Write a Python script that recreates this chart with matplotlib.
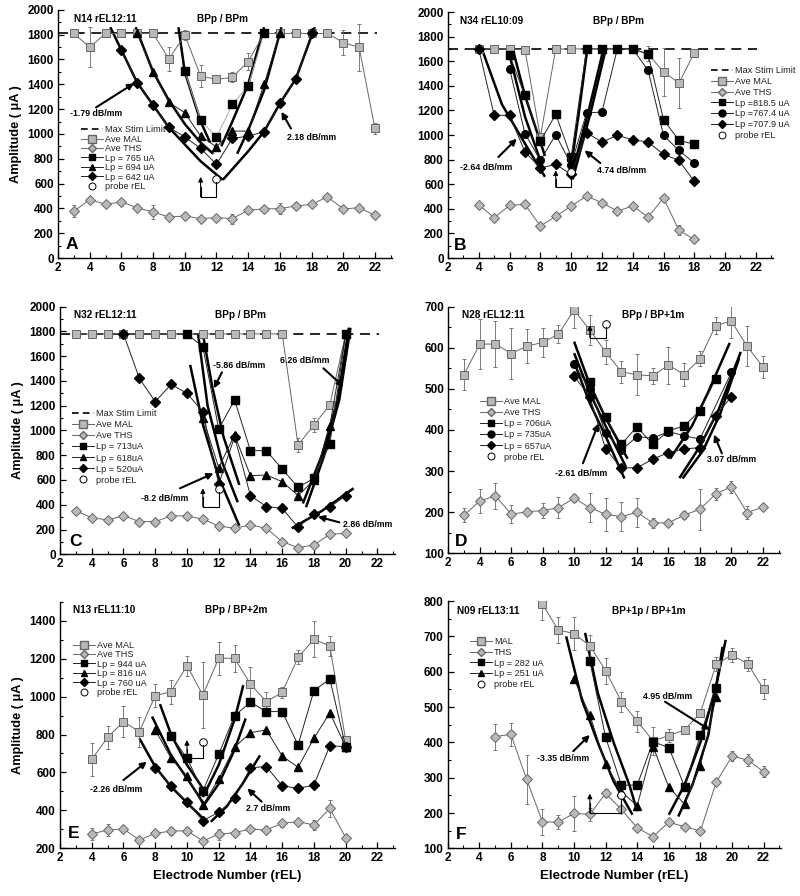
import matplotlib.pyplot as plt
from matplotlib.lines import Line2D
from matplotlib.ticker import MultipleLocator

plt.rcParams['font.family'] = ['Liberation Sans', 'DejaVu Sans']

# ---------------- panel A : N14 rEL12:11 ----------------
a_max = 1815
a_mal_x = list(range(3, 23))
a_mal = [1810, 1698, 1810, 1810, 1810, 1810, 1604, 1798, 1467, 1440,
         1456, 1583, 1810, 1810, 1810, 1810, 1810, 1736, 1698, 1044]
a_mal_err = [0, 160, 0, 0, 0, 0, 100, 40, 90, 20, 40, 70, 0, 0, 0, 0, 0, 100, 190, 45]
a_ths_x = list(range(3, 23))
a_ths = [377, 471, 433, 452, 406, 371, 331, 339, 318, 326,
         318, 385, 396, 398, 420, 433, 493, 396, 406, 345]
a_ths_err = [50, 0, 20, 0, 20, 55, 20, 0, 0, 0, 40, 0, 0, 45, 0, 0, 0, 0, 0, 0]
a_lp_x = [[10, 11, 12, 13, 14, 15],
          [7, 8, 9, 10, 11, 12, 13, 14, 15, 16],
          list(range(6, 19))]
a_lp_y = [[1507, 1112, 972, 1238, 1386, 1810],
          [1810, 1502, 1254, 1171, 982, 896, 1023, 1023, 1400, 1810],
          [1677, 1413, 1233, 1052, 977, 883, 756, 964, 982, 1018, 1246, 1443, 1810]]
a_labels = ['Lp = 765 uA', 'Lp = 694 uA', 'Lp = 642 uA']
a_probe = (12, 641)
a_fit_x = [[5.3, 7, 9, 11, 12.4], [12.4, 14, 15, 16, 17, 18.2],
           [6.9, 8, 9, 10, 11, 11.8], [13.3, 14, 15, 16.1],
           [9.6, 10, 11, 11.6], [12.3, 13, 14, 15]]
a_fit_y = [[1860, 1413, 1052, 780, 630], [630, 860, 1018, 1246, 1443, 1860],
           [1860, 1500, 1270, 1080, 930, 840], [840, 1030, 1350, 1860],
           [1860, 1500, 1100, 930], [900, 1100, 1400, 1860]]

# ---------------- panel B : N34 rEL10:09 ----------------
b_max = 1700
b_mal_x = list(range(4, 19))
b_mal = [1700, 1700, 1700, 1694, 984, 1700, 1700, 1700, 1700, 1700, 1700, 1660, 1512, 1423, 1667]
b_mal_err = [0, 0, 0, 0, 0, 0, 0, 0, 0, 0, 0, 60, 195, 205, 35]
b_ths_x = list(range(4, 19))
b_ths = [434, 328, 428, 436, 260, 339, 423, 504, 450, 382, 423, 333, 488, 225, 152]
b_ths_err = [0, 0, 0, 0, 0, 0, 0, 0, 0, 0, 0, 0, 0, 40, 0]
b_lp_x = [list(range(6, 19)), list(range(6, 19)), list(range(4, 19))]
b_lp_y = [[1648, 1322, 951, 1168, 820, 1700, 1700, 1700, 1700, 1656, 1125, 957, 924],
          [1539, 1011, 794, 1003, 760, 1179, 1187, 1700, 1700, 1526, 997, 875, 772],
          [1700, 1160, 1160, 862, 732, 762, 680, 1019, 943, 997, 962, 943, 843, 794, 623]]
b_labels = ['Lp =818.5 uA', 'Lp =767.4 uA', 'Lp =707.9 uA']
b_probe = (10, 700)
b_fit_x = [[4.2, 5.5, 7, 8.3], [6.0, 7, 8.2], [6.2, 7, 8.3],
           [9.95, 10.5, 11.05], [10.0, 11.2, 12.1], [10.1, 11.3, 12.25]]
b_fit_y = [[1700, 1250, 930, 660], [1650, 1150, 720], [1700, 1320, 830],
           [700, 1180, 1700], [660, 1230, 1700], [640, 1200, 1700]]

# ---------------- panel C : N32 rEL12:11 ----------------
c_max = 1780
c_mal_x = list(range(3, 21))
c_mal = [1780] * 14 + [883, 1044, 1206, 1780]
c_mal_err = [0] * 14 + [60, 60, 0, 0]
c_ths_x = list(range(3, 21))
c_ths = [350, 296, 277, 312, 264, 264, 310, 310, 283, 229, 210, 237, 210, 102, 54, 75, 161, 170]
c_ths_err = [0] * 18
c_lp_x = [list(range(10, 21)), list(range(11, 21)), list(range(6, 21))]
c_lp_y = [[1780, 1677, 1012, 1246, 837, 837, 689, 541, 614, 888, 1780],
          [1104, 700, 964, 635, 640, 587, 474, 600, 1039, 1780],
          [1780, 1421, 1233, 1373, 1300, 1152, 565, 950, 474, 385, 371, 218, 326, 380, 474]]
c_labels = ['Lp = 713uA', 'Lp = 618uA', 'Lp = 520uA']
c_probe = (12, 528)
c_fit_x = [[11.0, 11.6, 12.3, 13.3], [10.7, 11.3, 12.2, 13.2], [10.2, 11.0, 12.0, 13.3],
           [17.3, 18.5, 19.5, 20.2], [17.5, 18.6, 19.6, 20.3], [16.6, 18.5, 20.5]]
c_fit_y = [[1780, 1350, 950, 560], [1780, 1200, 750, 420], [1530, 1050, 620, 230],
           [410, 800, 1250, 1830], [380, 780, 1250, 1830], [210, 350, 533]]

# ---------------- panel D : N28 rEL12:11 ----------------
d_mal_x = list(range(3, 23))
d_mal = [535, 609, 609, 586, 604, 613, 633, 692, 643, 590,
         542, 534, 532, 558, 535, 573, 654, 665, 604, 554]
d_mal_err = [37, 60, 55, 63, 42, 35, 22, 45, 37, 30, 27, 50, 20, 45, 27, 18, 20, 42, 48, 27]
d_ths_x = list(range(3, 23))
d_ths = [193, 227, 240, 195, 201, 204, 211, 234, 211, 195,
         189, 200, 174, 174, 193, 207, 244, 262, 199, 212]
d_ths_err = [18, 30, 32, 22, 8, 18, 25, 10, 35, 40, 35, 35, 12, 0, 10, 50, 15, 15, 15, 0]
d_lp_x = [list(range(11, 20)), [10, 11, 12, 13, 14, 15, 16, 17, 18, 20], list(range(10, 21))]
d_lp_y = [[517, 431, 365, 408, 365, 398, 410, 447, 524],
          [560, 499, 393, 351, 384, 380, 396, 386, 378, 540],
          [531, 481, 354, 308, 308, 329, 345, 354, 357, 435, 481]]
d_labels = ['Lp = 706uA', 'Lp = 735uA', 'Lp = 657uA']
d_probe = (12, 658)
d_fit_x = [[10.0, 11.0, 12.0, 13.4], [10.0, 11.0, 12.0, 13.3], [10.0, 11.0, 12.0, 13.2],
           [16.1, 17.5, 18.5, 19.9], [16.7, 18.0, 19.2, 20.6], [16.9, 18.2, 19.3, 20.5]]
d_fit_y = [[615, 510, 430, 330], [587, 490, 410, 310], [565, 465, 385, 282],
           [330, 410, 490, 612], [283, 360, 450, 590], [282, 350, 440, 575]]

# ---------------- panel E : N13 rEL11:10 ----------------
e_mal_x = list(range(4, 21))
e_mal = [669, 785, 868, 815, 1005, 1026, 1163, 1008, 1202, 1202, 1066, 973, 1022, 1207, 1302, 1267, 771]
e_mal_err = [88, 60, 80, 80, 60, 63, 53, 175, 88, 72, 90, 53, 30, 37, 95, 53, 0]
e_ths_x = list(range(4, 21))
e_ths = [276, 297, 302, 244, 279, 291, 293, 239, 274, 283, 302, 297, 332, 341, 323, 411, 256]
e_ths_err = [30, 30, 0, 0, 0, 20, 20, 0, 30, 0, 0, 0, 20, 0, 25, 45, 0]
e_lp_x = [list(range(9, 21)), list(range(8, 21)), list(range(8, 21))]
e_lp_y = [[794, 675, 502, 696, 899, 970, 921, 921, 745, 1031, 1093, 736],
          [824, 675, 581, 428, 566, 733, 810, 824, 687, 627, 780, 915, 736],
          [625, 529, 446, 346, 390, 464, 625, 631, 530, 516, 534, 741, 736]]
e_labels = ['Lp = 944 uA', 'Lp = 816 uA', 'Lp = 760 uA']
e_probe = (11, 762)
e_fit_x = [[8.3, 9, 10, 11.05], [7.8, 9, 10, 11.1], [7.0, 8, 9, 10, 11.3],
           [11.0, 12, 13, 13.55], [11.0, 12, 13, 13.7], [11.5, 12.5, 13.5, 14.6]]
e_fit_y = [[960, 800, 640, 510], [895, 690, 570, 430], [780, 630, 525, 440, 335],
           [470, 640, 880, 1060], [420, 540, 720, 885], [340, 420, 540, 690]]

# ---------------- panel F : N09 rEL13:11 ----------------
f_mal_x = list(range(8, 23))
f_mal = [791, 718, 708, 673, 603, 515, 460, 404, 419, 435, 484, 621, 647, 622, 551]
f_mal_err = [45, 37, 47, 30, 37, 28, 30, 40, 18, 0, 0, 20, 20, 20, 27]
f_ths_x = list(range(5, 23))
f_ths = [416, 423, 295, 175, 174, 199, 196, 256, 210, 158, 133, 174, 161, 149, 287, 361, 350, 317]
f_ths_err = [37, 33, 70, 37, 20, 50, 18, 12, 0, 0, 0, 0, 0, 0, 0, 15, 18, 15]
f_lp_x = [list(range(11, 20)), list(range(10, 20))]
f_lp_y = [[630, 414, 279, 279, 402, 385, 275, 421, 555],
          [579, 477, 339, 260, 221, 388, 273, 225, 334, 529]]
f_labels = ['Lp = 282 uA', 'Lp = 251 uA']
f_probe = (13, 251)
f_fit_x = [[10.7, 11.5, 12.5, 13.5, 14.0], [9.5, 10.5, 11.5, 12.5, 13.7],
           [16.0, 17, 18, 19.0, 19.6], [16.6, 17.5, 18.5, 19.4]]
f_fit_y = [[710, 540, 400, 280, 205], [700, 520, 400, 290, 195],
           [195, 280, 400, 560, 690], [190, 280, 420, 670]]

GRAY = '#b9b9b9'
EDGE = '#666666'


def draw(ax, mal_x, mal, mal_err, ths_x, ths, ths_err, lp_x, lp_y, lp_labels,
         lp_marks, probe, fit_x, fit_y, maxstim, mal_lab, ths_lab,
         ylim, ymaj, ymin, lp_colors=None):
    if maxstim is not None:
        ax.plot([2, 22.1], [maxstim, maxstim], color='k', lw=1.2, dashes=(6, 4), zorder=1)
    for fx, fy in zip(fit_x, fit_y):
        ax.plot(fx, fy, color='k', lw=1.8, zorder=2, solid_capstyle='butt')
    ax.errorbar(mal_x, mal, yerr=mal_err, fmt='none', ecolor=EDGE, elinewidth=0.6,
                capsize=1.6, capthick=0.6, zorder=3)
    ax.errorbar(ths_x, ths, yerr=ths_err, fmt='none', ecolor=EDGE, elinewidth=0.6,
                capsize=1.6, capthick=0.6, zorder=3)
    ax.plot(mal_x, mal, color=EDGE, lw=0.7, marker='s', ms=5.8, mfc=GRAY, mec=EDGE,
            mew=0.7, zorder=4)
    ax.plot(ths_x, ths, color=EDGE, lw=0.7, marker='D', ms=4.8, mfc=GRAY, mec=EDGE,
            mew=0.7, zorder=4)
    if lp_colors is None:
        lp_colors = ['#222222'] * len(lp_x)
    for x, y, m, c in zip(lp_x, lp_y, lp_marks, lp_colors):
        ms = 5.3 if m == 's' else (4.6 if m == 'D' else 5.5)
        ax.plot(x, y, color=c, lw=0.7, marker=m, ms=ms, mfc='k', mec='k', zorder=5)
    ax.plot(probe[0], probe[1], 'o', ms=5.5, mfc='white', mec='k', mew=0.7, zorder=6)

    ax.set_xlim(2, 23.1)
    ax.set_ylim(*ylim)
    ax.xaxis.set_major_locator(MultipleLocator(2))
    ax.xaxis.set_minor_locator(MultipleLocator(1))
    ax.yaxis.set_major_locator(MultipleLocator(ymaj))
    ax.yaxis.set_minor_locator(MultipleLocator(ymin))
    for s in ['top', 'right']:
        ax.spines[s].set_visible(False)
    for s in ['left', 'bottom']:
        ax.spines[s].set_linewidth(1.0)
    ax.tick_params(which='major', direction='in', length=4, width=0.9,
                   labelsize=8.5, pad=3)
    ax.tick_params(which='minor', direction='in', length=2.5, width=0.8)
    for lab in ax.get_xticklabels() + ax.get_yticklabels():
        lab.set_fontweight('bold')

    handles = []
    labels = []
    if maxstim is not None:
        handles.append(Line2D([], [], color='k', lw=1.2, dashes=(4, 2.5)))
        labels.append('Max Stim Limit')
    handles.append(Line2D([], [], color=EDGE, lw=0.7, marker='s', ms=5.5, mfc=GRAY, mec=EDGE))
    labels.append(mal_lab)
    handles.append(Line2D([], [], color=EDGE, lw=0.7, marker='D', ms=4.2, mfc=GRAY, mec=EDGE))
    labels.append(ths_lab)
    for m, lab in zip(lp_marks, lp_labels):
        ms = 5.0 if m == 's' else (4.2 if m == 'D' else 5.0)
        handles.append(Line2D([], [], color='#222222', lw=0.7, marker=m, ms=ms, mfc='k', mec='k'))
        labels.append(lab)
    handles.append(Line2D([], [], ls='none', marker='o', ms=5, mfc='white', mec='k', mew=0.7))
    labels.append('probe rEL')
    return handles, labels


def bracket(ax, xa, xp, base, tip, ptop):
    ax.plot([xa, xa, xp, xp], [base + (tip - base) * 0.5, base, base, ptop],
            color='k', lw=0.8, zorder=6)
    ax.annotate('', xy=(xa, tip), xytext=(xa, base),
                arrowprops=dict(arrowstyle='-|>', color='k', lw=0.8, mutation_scale=7,
                                shrinkA=0, shrinkB=0), zorder=6)


def note(ax, text, tx, ty, tail, head):
    ax.text(tx, ty, text, ha='center', va='center', fontsize=6.3, fontweight='bold', zorder=7)
    ax.annotate('', xy=head, xytext=tail,
                arrowprops=dict(arrowstyle='-|>', color='k', lw=1.5, mutation_scale=9,
                                shrinkA=0, shrinkB=0), zorder=7)


def titles(ax, left, lx, right, rx, y):
    ax.text(lx, y, left, ha='left', va='center', fontsize=7.2, fontweight='bold')
    ax.text(rx, y, right, ha='center', va='center', fontsize=7.2, fontweight='bold')


def letter(ax, s, x, y):
    ax.text(x, y, s, ha='left', va='center', fontsize=12.5, fontweight='bold')


def legend(ax, h, l, x, y, sp):
    ax.legend(h, l, loc='upper left', bbox_to_anchor=(x, y), frameon=False,
              fontsize=6.6, handlelength=2.4, handletextpad=0.2, labelspacing=sp,
              borderpad=0, borderaxespad=0, numpoints=1, labelcolor='#222222')


fig = plt.figure(figsize=(8, 8.96), dpi=100)
axA = fig.add_axes([0.0725, 0.712, 0.418, 0.277])
axB = fig.add_axes([0.56, 0.712, 0.406, 0.2746])
axC = fig.add_axes([0.075, 0.3814, 0.4186, 0.2763])
axD = fig.add_axes([0.5604, 0.3825, 0.4147, 0.2752])
axE = fig.add_axes([0.075, 0.0532, 0.4186, 0.2752])
axF = fig.add_axes([0.5596, 0.0532, 0.4166, 0.276])

# A
h, l = draw(axA, a_mal_x, a_mal, a_mal_err, a_ths_x, a_ths, a_ths_err, a_lp_x, a_lp_y,
            a_labels, ['s', '^', 'D'], a_probe, a_fit_x, a_fit_y, a_max, 'Ave MAL', 'Ave THS',
            (0, 2000), 200, 100, lp_colors=['#aaaaaa', '#222222', '#222222'])
legend(axA, h, l, 0.07, 0.535, 0.05)
bracket(axA, 11, 12, 493, 654, 610)
note(axA, '-1.79 dB/mm', 4.4, 1166, (4.4, 1214), (6.8, 1408))
note(axA, '2.18 dB/mm', 18.0, 969, (16.7, 1044), (16.1, 1179))
titles(axA, 'N14 rEL12:11', 3.0, 'BPp / BPm', 12.4, 1925)
letter(axA, 'A', 2.5, 108)

# B
h, l = draw(axB, b_mal_x, b_mal, b_mal_err, b_ths_x, b_ths, b_ths_err, b_lp_x, b_lp_y,
            b_labels, ['s', 'o', 'D'], b_probe, b_fit_x, b_fit_y, b_max, 'Ave MAL', 'Ave THS',
            (0, 2000), 200, 100)
legend(axB, h, l, 0.81, 0.78, 0.2)
bracket(axB, 9, 10, 577, 713, 670)
note(axB, '-2.64 dB/mm', 4.5, 732, (5.27, 821), (6.47, 970))
note(axB, '4.74 dB/mm', 13.3, 713, (11.9, 772), (10.87, 875))
titles(axB, 'N34 rEL10:09', 2.8, 'BPp / BPm', 13.1, 1927)
letter(axB, 'B', 2.35, 103)

# C
h, l = draw(axC, c_mal_x, c_mal, c_mal_err, c_ths_x, c_ths, c_ths_err, c_lp_x, c_lp_y,
            c_labels, ['s', '^', 'D'], c_probe, c_fit_x, c_fit_y, c_max, 'Ave MAL', 'Ave THS',
            (0, 2000), 200, 100)
legend(axC, h, l, 0.036, 0.585, 0.22)
bracket(axC, 11, 12, 385, 533, 500)
note(axC, '-5.86 dB/mm', 13.3, 1521, (12.2, 1470), (11.7, 1340))
note(axC, '6.26 dB/mm', 17.4, 1569, (18.6, 1502), (19.87, 1354))
note(axC, '-8.2 dB/mm', 8.6, 452, (9.56, 533), (11.67, 654))
note(axC, '2.86 dB/mm', 21.4, 242, (19.6, 258), (18.25, 304))
titles(axC, 'N32 rEL12:11', 2.9, 'BPp / BPm', 13.4, 1933)
letter(axC, 'C', 2.6, 102)

# D
h, l = draw(axD, d_mal_x, d_mal, d_mal_err, d_ths_x, d_ths, d_ths_err, d_lp_x, d_lp_y,
            d_labels, ['s', 'o', 'D'], d_probe, d_fit_x, d_fit_y, None, 'Ave MAL', 'Ave THS',
            (100, 700), 100, 50)
legend(axD, h, l, 0.096, 0.632, 0.22)
bracket(axD, 11, 12, 625, 655, 650)
note(axD, '-2.61 dB/mm', 10.45, 295, (10.56, 319), (11.55, 416))
note(axD, '3.07 dB/mm', 20.0, 327, (19.4, 343), (18.9, 389))
titles(axD, 'N28 rEL12:11', 2.85, 'BPp / BP+1m', 15.0, 681)
letter(axD, 'D', 2.4, 128)

# E
h, l = draw(axE, e_mal_x, e_mal, e_mal_err, e_ths_x, e_ths, e_ths_err, e_lp_x, e_lp_y,
            e_labels, ['s', '^', 'D'], e_probe, e_fit_x, e_fit_y, None, 'Ave MAL', 'Ave THS',
            (200, 1500), 200, 100)
legend(axE, h, l, 0.038, 0.842, 0.05)
bracket(axE, 10, 11, 678, 771, 745)
note(axE, '-2.26 dB/mm', 5.56, 508, (6.0, 560), (7.47, 657))
note(axE, '2.7 dB/mm', 15.1, 411, (14.7, 446), (13.8, 516))
titles(axE, 'N13 rEL11:10', 2.85, 'BPp / BP+2m', 13.1, 1456)
letter(axE, 'E', 2.5, 279)

# F
h, l = draw(axF, f_mal_x, f_mal, f_mal_err, f_ths_x, f_ths, f_ths_err, f_lp_x, f_lp_y,
            f_labels, ['s', '^'], f_probe, f_fit_x, f_fit_y, None, 'MAL', 'THS',
            (100, 800), 100, 50)
legend(axF, h, l, 0.067, 0.855, 0.2)
bracket(axF, 11, 13, 199, 255, 240)
note(axF, '-3.35 dB/mm', 9.3, 353, (9.95, 375), (11.0, 421))
note(axF, '4.95 dB/mm', 15.9, 529, (15.76, 515), (18.6, 435))
titles(axF, 'N09 rEL13:11', 2.57, 'BP+1p / BP+1m', 14.7, 772)
letter(axF, 'F', 2.55, 138)

for ax in [axA, axC, axE]:
    ax.set_ylabel('Amplitude ( \u03bcA )', fontsize=9.2, fontweight='bold', labelpad=4)
for ax in [axE, axF]:
    ax.set_xlabel('Electrode Number (rEL)', fontsize=9.5, fontweight='bold', labelpad=4)

fig.savefig('out.png', dpi=100)
